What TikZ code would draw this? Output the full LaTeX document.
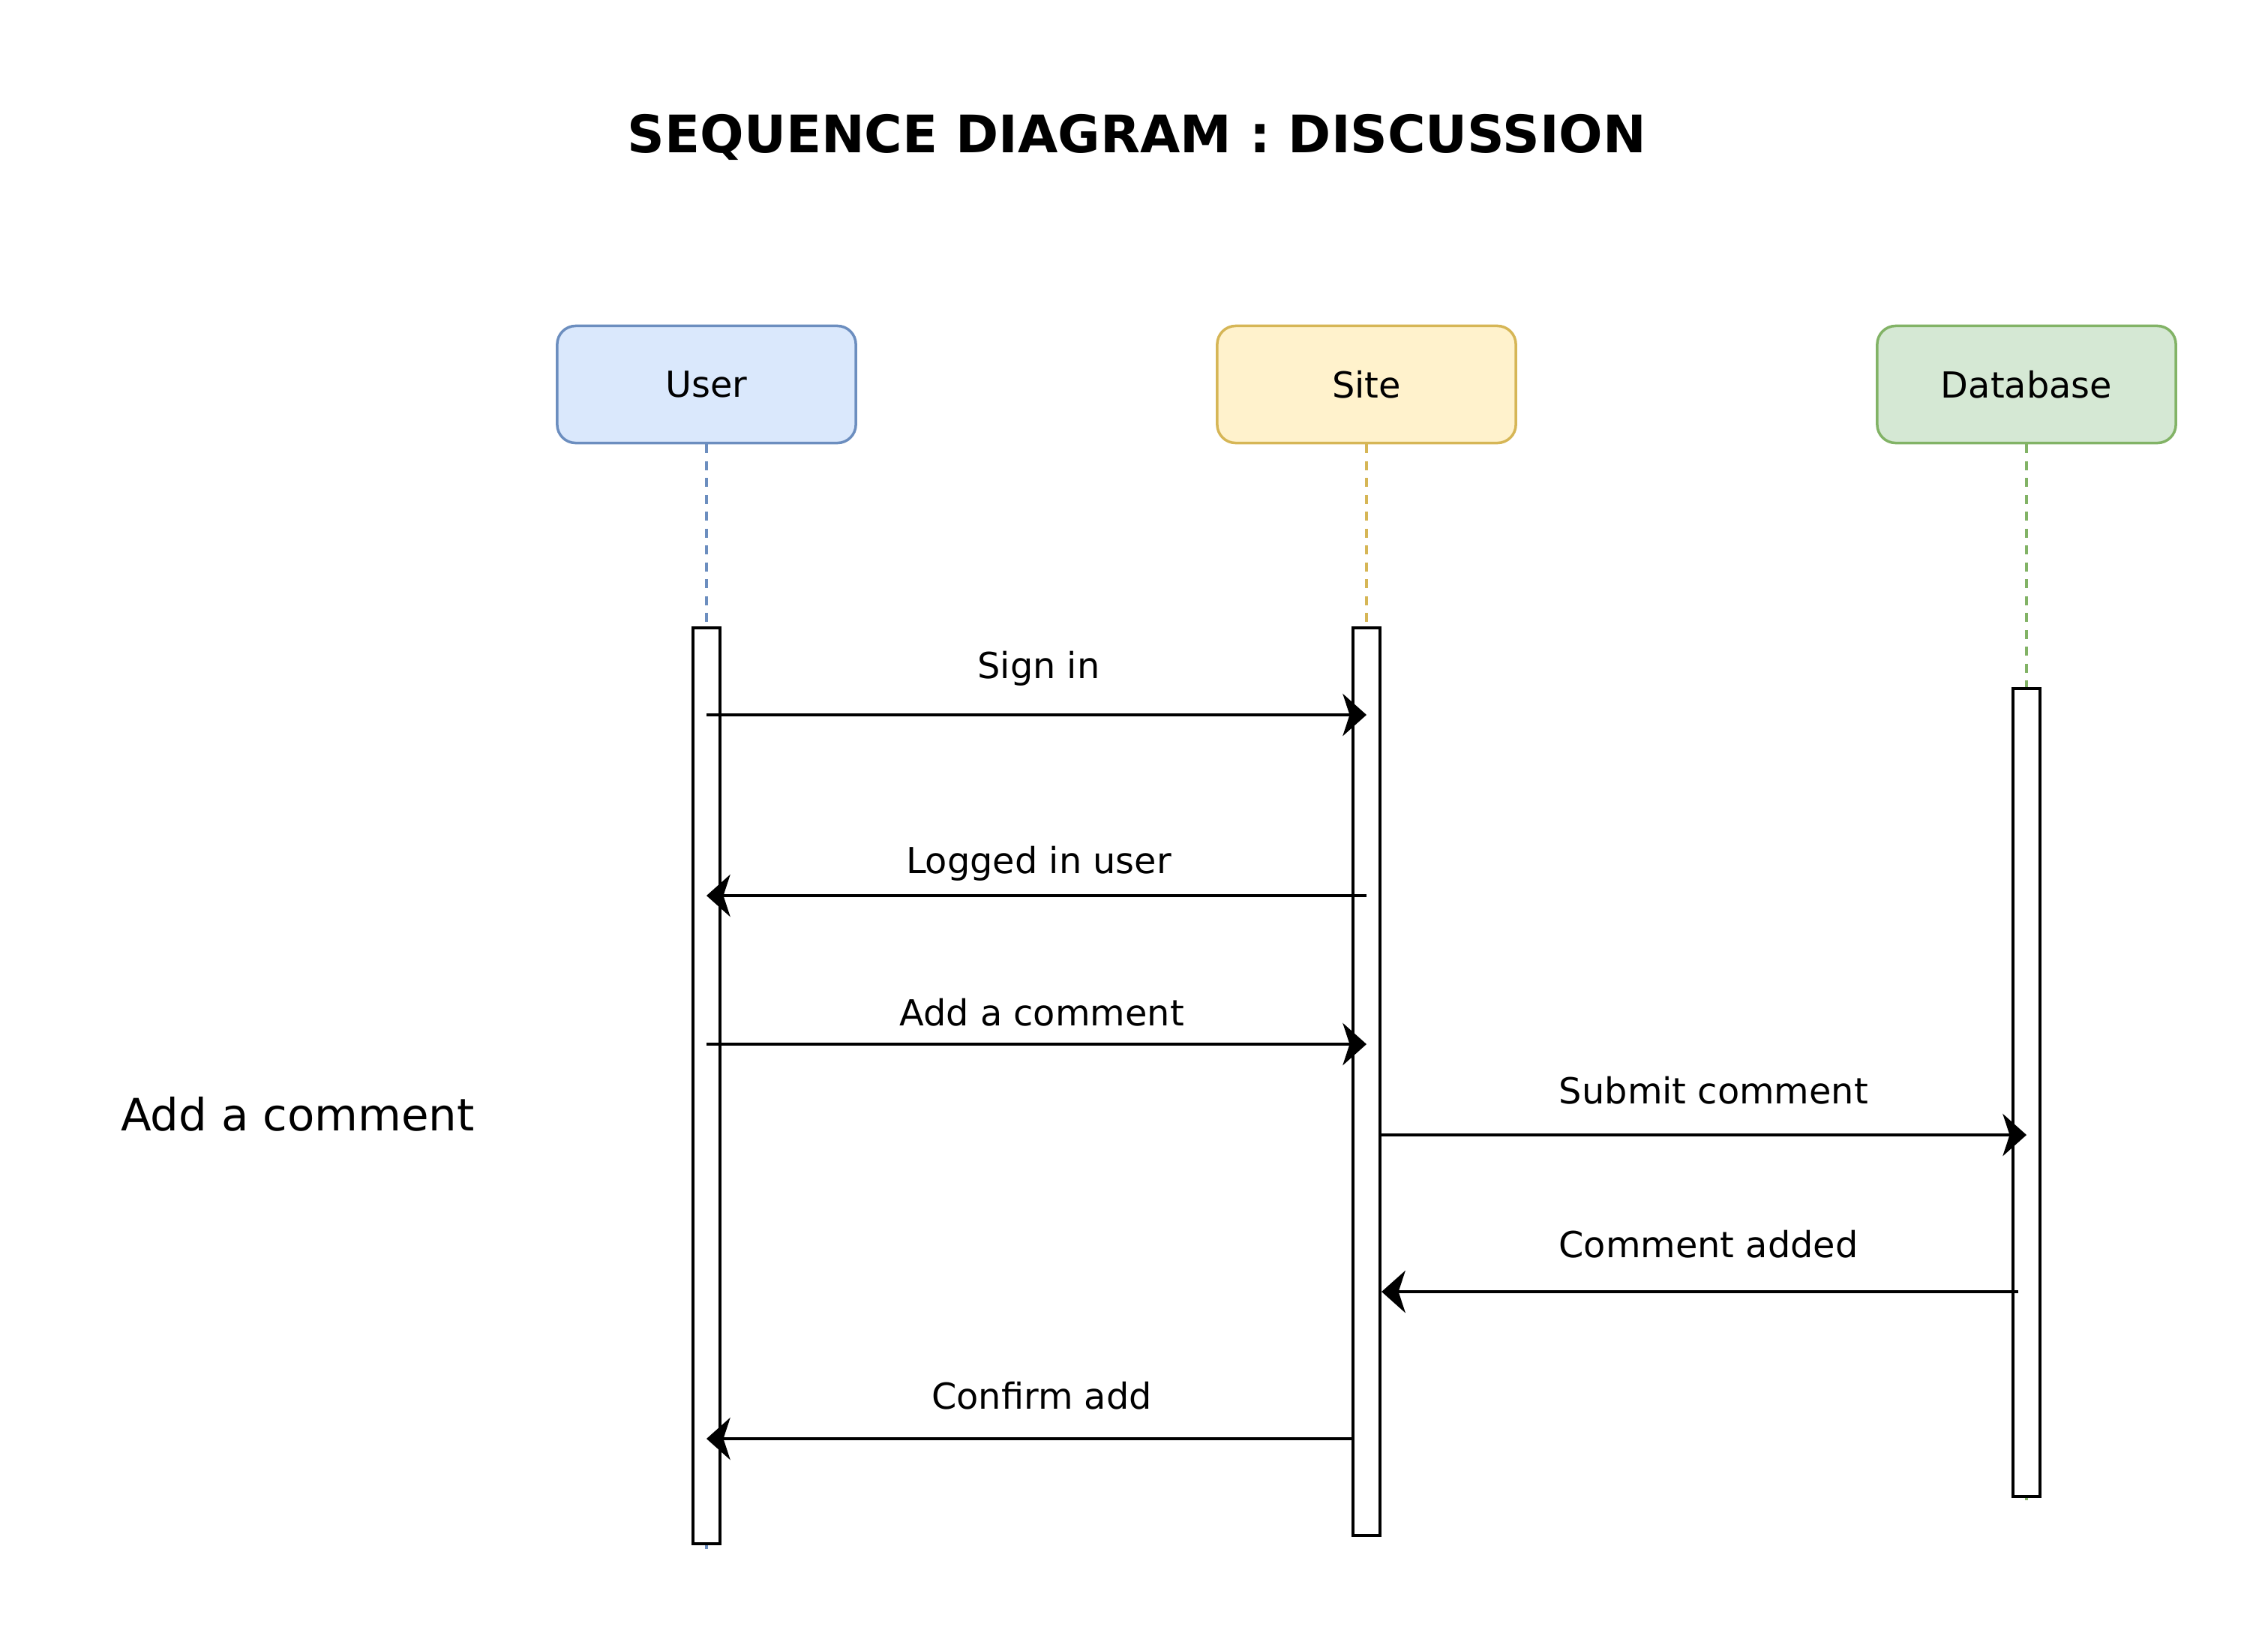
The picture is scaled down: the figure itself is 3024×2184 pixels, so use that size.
\documentclass[tikz,border=0pt]{standalone}
\usepackage{fontspec}
\setmainfont{DejaVu Sans}
\usepackage{tikz}
\usetikzlibrary{arrows.meta, backgrounds}
\definecolor{userfill}{HTML}{DAE8FC}
\definecolor{userline}{HTML}{6C8EBF}
\definecolor{sitefill}{HTML}{FFF2CC}
\definecolor{siteline}{HTML}{D6B656}
\definecolor{dbfill}{HTML}{D5E8D4}
\definecolor{dbline}{HTML}{82B366}
\tikzset{actor/.style={draw, rounded corners=7pt, line width=1pt, minimum width=3.98cm, minimum height=1.56cm, inner sep=0pt, font=\fontsize{13.6}{16}\selectfont}}
\tikzset{lifeline/.style={line width=1.05pt, dash pattern=on 3.4pt off 3pt}}
\tikzset{activation/.style={draw, fill=white, line width=1.2pt, minimum width=0.36cm, inner sep=0pt, anchor=north}}
\tikzset{message/.style={-{Stealth[length=9pt, width=16pt, inset=2.6pt]}, line width=1.1pt}}
\tikzset{msglabel/.style={font=\fontsize{13.6}{16}\selectfont, inner sep=0pt}}

\begin{document}
\begin{tikzpicture}[x=0.01cm, y=-0.01cm]
            \useasboundingbox (0,0) rectangle (3024,2184);
            % title and side note
            \node[font=\bfseries\fontsize{19.6}{24}\selectfont] (title) at (1516,183) {SEQUENCE DIAGRAM : DISCUSSION};
            \node[font=\fontsize{16.9}{20}\selectfont] (note) at (397,1485) {Add a comment};
            % actors
            \node[actor, fill=userfill, draw=userline] (user) at (942,512.5) {User};
            \node[actor, fill=sitefill, draw=siteline] (site) at (1822,512.5) {Site};
            \node[actor, fill=dbfill, draw=dbline] (db) at (2702,512.5) {Database};
            % activation bars
            \node[activation, minimum height=12.2cm] (uact) at (942,835) {};
            \node[activation, minimum height=12.09cm] (sact) at (1822,835) {};
            \node[activation, minimum height=10.76cm] (dact) at (2702,916) {};
            % lifelines
            \begin{scope}[on background layer]
            \draw[lifeline, userline] (user.south) -- ([yshift=-1.5pt]uact.south);
            \draw[lifeline, siteline] (site.south) -- ([yshift=-1.5pt]sact.south);
            \draw[lifeline, dbline] (db.south) -- ([yshift=-1.5pt]dact.south);
            \end{scope}
            % messages
            \draw[message] (uact.center |- 0,953) -- (sact.center |- 0,953);
            \draw[message] (sact.center |- 0,1194) -- (uact.center |- 0,1194);
            \draw[message] (uact.center |- 0,1392) -- (sact.center |- 0,1392);
            \draw[message] (sact.east |- 0,1513) -- (dact.center |- 0,1513);
            \draw[message] ([xshift=-3pt]dact.center |- 0,1722) -- (sact.east |- 0,1722);
            \draw[message] (sact.west |- 0,1918) -- (uact.center |- 0,1918);
            % message labels
            \node[msglabel] (signin) at (1385,891) {Sign in};
            \node[msglabel] (logged) at (1385,1151) {Logged in user};
            \node[msglabel] (addc) at (1389,1350) {Add a comment};
            \node[msglabel] (submit) at (2285,1454) {Submit comment};
            \node[msglabel] (added) at (2278,1659) {Comment added};
            \node[msglabel] (confirm) at (1389,1861) {Confirm add};
        \end{tikzpicture}
\end{document}
